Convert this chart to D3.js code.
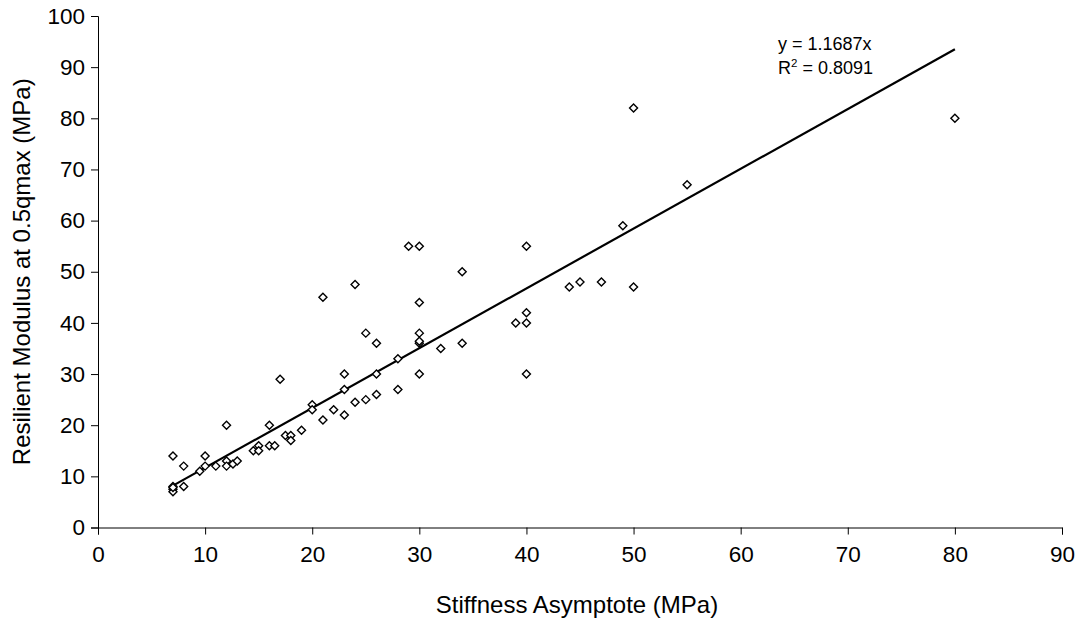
<!DOCTYPE html>
<html>
<head>
<meta charset="utf-8">
<script src="https://cdn.jsdelivr.net/npm/d3@7"></script>
<style>
body { margin: 0; background: #fff; }
text { font-family: Arial, "Liberation Sans", sans-serif; fill: #000; }
</style>
</head>
<body>
<svg id="chart" width="1088" height="621"></svg>
<script>
// Data
const stiffness = [7, 7, 7, 7, 7, 8, 8, 9.5, 10, 10, 11, 12, 12, 12, 12.6, 13, 14.5, 15, 15, 16, 16.5, 16, 17, 17.5, 18, 18, 19, 20, 20, 21, 21, 22, 23, 23, 23, 24, 24, 25, 25, 26, 26, 26, 28, 28, 29, 30, 30, 30, 30, 30, 30, 32, 34, 34, 39, 40, 40, 40, 40, 44, 45, 47, 49, 50, 50, 55, 80];
const modulus   = [14, 8, 7.5, 7, 7.8, 8, 12, 11, 14, 12, 12, 20, 13, 12, 12.4, 13, 15, 16, 15, 16, 16, 20, 29, 18, 18, 17, 19, 24, 23, 21, 45, 23, 30, 27, 22, 24.5, 47.5, 25, 38, 26, 30, 36, 33, 27, 55, 55, 44, 38, 36, 36.4, 30, 35, 36, 50, 40, 55, 42, 40, 30, 47, 48, 48, 59, 82, 47, 67, 80];
const slope = 1.1687;
const fitRange = [7, 80];
const xTicks = [0, 10, 20, 30, 40, 50, 60, 70, 80, 90];
const yTicks = [0, 10, 20, 30, 40, 50, 60, 70, 80, 90, 100];
const xTitle = "Stiffness Asymptote (MPa)";
const yTitle = "Resilient Modulus at 0.5qmax (MPa)";
const eqLine1 = "y = 1.1687x";
const r2Value = "0.8091";

const svg = d3.select("#chart");
const mLeft = 98, mRight = 1062, mTop = 16, mBottom = 527.5;

const x = d3.scaleLinear().domain([0, 90]).range([mLeft, mRight]);
const y = d3.scaleLinear().domain([0, 100]).range([mBottom, mTop]);

const tickFont = 22.5;
const titleFont = 24;

// Axes
const xAxis = svg.append("g").attr("transform", `translate(0,${mBottom})`)
  .call(d3.axisBottom(x).tickValues(xTicks).tickSize(7).tickPadding(12).tickFormat(d3.format("d")));
const yAxis = svg.append("g").attr("transform", `translate(${mLeft},0)`)
  .call(d3.axisLeft(y).tickValues(yTicks).tickSize(7).tickPadding(6).tickFormat(d3.format("d")));
[xAxis, yAxis].forEach(g => {
  g.select(".domain").attr("stroke", "#000").attr("stroke-width", 1);
  g.selectAll(".tick line").attr("stroke", "#000").attr("stroke-width", 1);
  g.selectAll(".tick text").attr("font-size", tickFont).attr("font-family", "Arial, 'Liberation Sans', sans-serif").attr("fill", "#000");
});
xAxis.selectAll(".tick text").attr("dy", "0.71em");

// Trend line
svg.append("line")
  .attr("x1", x(fitRange[0])).attr("y1", y(slope * fitRange[0]))
  .attr("x2", x(fitRange[1])).attr("y2", y(slope * fitRange[1]))
  .attr("stroke", "#000").attr("stroke-width", 2.2);

// Points (hollow diamonds)
const pts = stiffness.map((v, i) => ({ x: v, y: modulus[i] }));
const r = 4;
svg.append("g").selectAll("path").data(pts).join("path")
  .attr("d", d => `M${x(d.x)},${y(d.y) - r}L${x(d.x) + r},${y(d.y)}L${x(d.x)},${y(d.y) + r}L${x(d.x) - r},${y(d.y)}Z`)
  .attr("fill", "#fff").attr("stroke", "#000").attr("stroke-width", 1.4);

// Equation text
svg.append("text").attr("x", 778).attr("y", 50).attr("font-size", 18).text(eqLine1);
const t2 = svg.append("text").attr("x", 778).attr("y", 74).attr("font-size", 18);
t2.append("tspan").text("R");
t2.append("tspan").attr("font-size", 11.5).attr("dy", -7).text("2");
t2.append("tspan").attr("dy", 7).text(" = " + r2Value);

// Axis titles
svg.append("text").attr("x", 577).attr("y", 613)
  .attr("text-anchor", "middle").attr("font-size", titleFont).text(xTitle);
svg.append("text").attr("transform", `translate(30,${(mTop + mBottom) / 2}) rotate(-90)`)
  .attr("text-anchor", "middle").attr("font-size", titleFont).text(yTitle);
</script>
</body>
</html>
